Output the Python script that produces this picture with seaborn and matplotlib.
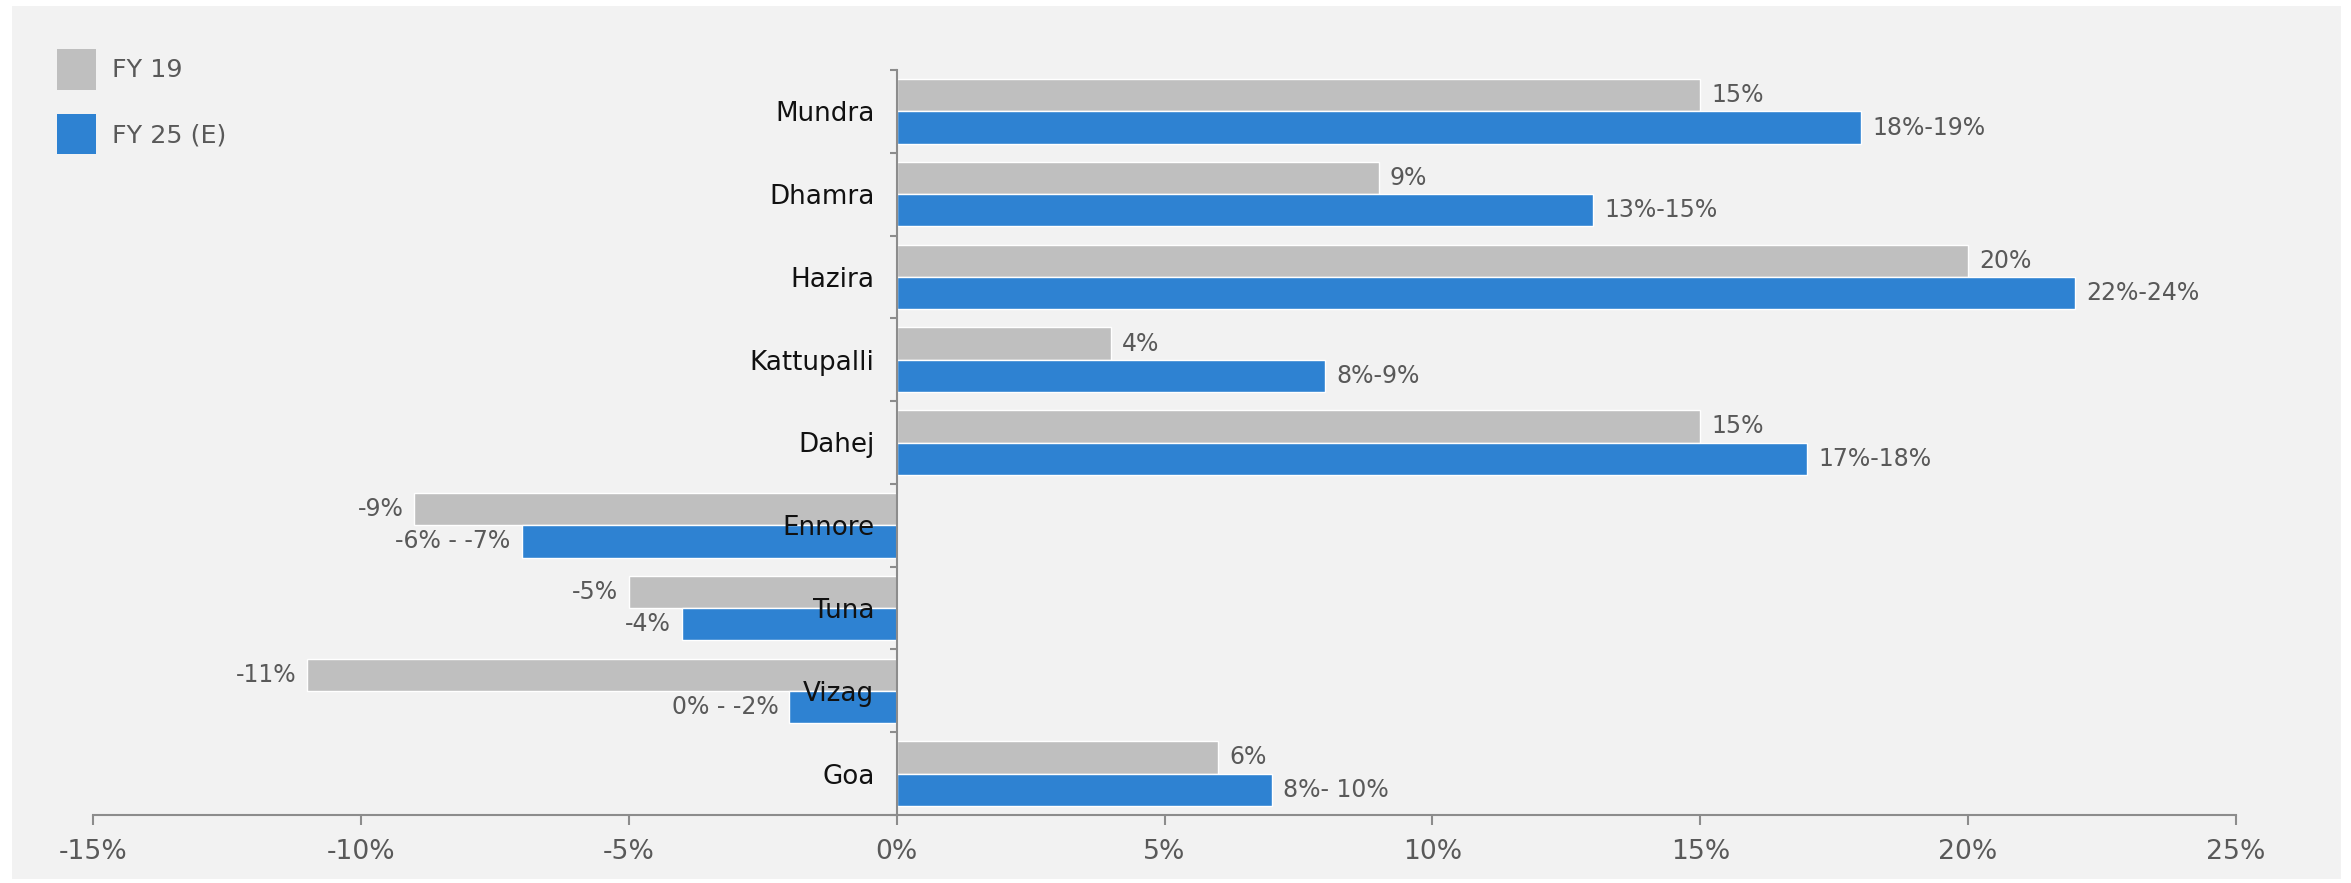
import matplotlib
matplotlib.use("Agg")
import matplotlib.pyplot as plt
from matplotlib.patches import Rectangle, Patch
from matplotlib.ticker import FixedLocator, FuncFormatter
import numpy as np
import pandas as pd
import seaborn as sns

# Port-wise EBITDA margin, FY19 vs FY25 estimate
ports = ["Mundra", "Dhamra", "Hazira", "Kattupalli", "Dahej",
         "Ennore", "Tuna", "Vizag", "Goa"]
fy19 = [15, 9, 20, 4, 15, -9, -5, -11, 6]
fy25 = [18, 13, 22, 8, 17, -7, -4, -2, 7]
fy19_labels = ["15%", "9%", "20%", "4%", "15%", "-9%", "-5%", "-11%", "6%"]
fy25_labels = ["18%-19%", "13%-15%", "22%-24%", "8%-9%", "17%-18%",
               "-6% - -7%", "-4%", "0% - -2%", "8%- 10%"]
series = ["FY 19", "FY 25 (E)"]
x_ticks = [-15, -10, -5, 0, 5, 10, 15, 20, 25]

colors = {"FY 19": "#bfbfbf", "FY 25 (E)": "#2e82d2"}
text_grey = "#595959"
axis_grey = "#8c8c8c"

df = pd.DataFrame({
    "port": ports * 2,
    "value": fy19 + fy25,
    "series": [series[0]] * len(ports) + [series[1]] * len(ports),
})

sns.set_theme(style="white")
plt.rcParams["font.family"] = ["DejaVu Sans"]

W, H, DPI = 2351, 883, 100
fig = plt.figure(figsize=(W / DPI, H / DPI), dpi=DPI, facecolor="white")

# light panel behind the chart
fig.patches.append(Rectangle((12 / W, 4 / H), (2341 - 12) / W, (879 - 6) / H,
                             transform=fig.transFigure, facecolor="#f2f2f2",
                             edgecolor="none", zorder=-10))

ax = fig.add_axes([93 / W, 1 - 815 / H, (2236 - 93) / W, (815 - 70) / H])
ax.set_facecolor("none")

sns.barplot(data=df, y="port", x="value", hue="series", order=ports,
            hue_order=series, palette=colors, orient="h", width=0.78,
            saturation=1, ax=ax, legend=False)

ax.set_xlim(-15, 25)
ax.set_ylim(len(ports) - 0.5, -0.5)

# value labels at the bar ends
for container, labels in zip(ax.containers, [fy19_labels, fy25_labels]):
    ax.bar_label(container, labels=labels, padding=8, fontsize=17,
                 color=text_grey)

# axes styling: axis (and its category labels) drawn on top of the bars
ax.set_axisbelow(False)
for side in ["top", "right"]:
    ax.spines[side].set_visible(False)
for side in ["left", "bottom"]:
    ax.spines[side].set_color(axis_grey)
    ax.spines[side].set_linewidth(1.5)
ax.spines["left"].set_position(("data", 0))

ax.set_xlabel("")
ax.set_ylabel("")
ax.xaxis.set_major_locator(FixedLocator(x_ticks))
ax.xaxis.set_major_formatter(FuncFormatter(lambda v, p: f"{v:.0f}%"))
ax.tick_params(axis="x", which="major", length=7, width=1.5, color=axis_grey,
               direction="out", labelsize=19.2, labelcolor=text_grey, pad=10,
               bottom=True)

ax.yaxis.set_minor_locator(FixedLocator(np.arange(len(ports) + 1) - 0.5))
ax.tick_params(axis="y", which="major", length=0, pad=16, labelsize=18.8,
               labelcolor="#111111", left=True)
ax.tick_params(axis="y", which="minor", length=5, width=1.5, color=axis_grey,
               direction="out", left=True)
ax.yaxis.set_zorder(6)

# legend
handles = [Patch(facecolor=colors[s], edgecolor="none") for s in series]
fig.legend(handles, series, loc="upper left",
           bbox_to_anchor=(57 / W, 1 - 49 / H), frameon=False, borderpad=0,
           borderaxespad=0, handlelength=1.55, handleheight=2.08,
           handletextpad=0.62, labelspacing=0.95, fontsize=18.3,
           labelcolor=text_grey)

fig.savefig("out.png", dpi=DPI, facecolor="white")
